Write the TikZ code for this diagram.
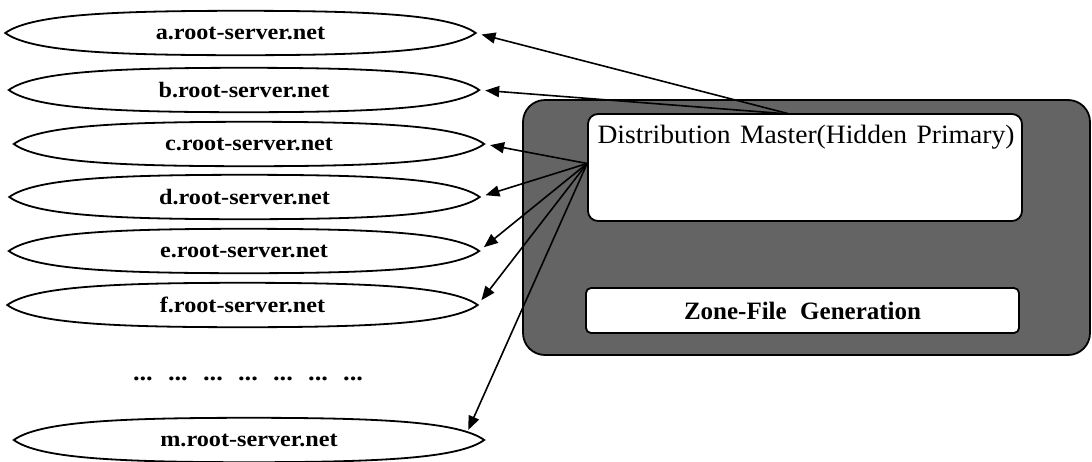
\documentclass[tikz,border=0pt]{standalone}
\usepackage{fontspec}
\setmainfont{Liberation Serif}
\newfontfamily\srvfont[FakeStretch=1.1]{Liberation Serif}
\newfontfamily\dmfont[FakeStretch=1.04]{Liberation Serif}
\usetikzlibrary{calc,arrows.meta}
\definecolor{boxgray}{RGB}{100,100,100}
\begin{document}
\begin{tikzpicture}[x=1pt,y=-1pt,
  srv/.style={minimum width=470pt, minimum height=44pt, inner sep=0pt,
    font={\srvfont\bfseries\fontsize{22}{26}\selectfont}},
  lens/.style={line width=1.8pt},
  conn/.style={line width=1.6pt, -{Triangle[length=14pt,width=11pt]}, shorten >=6pt},
  panel/.style={draw=black, line width=1.8pt, fill=white}]
\useasboundingbox (0,0) rectangle (1092,461);

% root servers
\node[srv] (a) at (240.5,33) {a.root-server.net};
\node[srv] (b) at (244,90) {b.root-server.net};
\node[srv] (c) at (249,144) {c.root-server.net};
\node[srv] (d) at (244.5,197) {d.root-server.net};
\node[srv] (e) at (244,251) {e.root-server.net};
\node[srv] (f) at (242.5,305) {f.root-server.net};
\node[srv] (m) at (249,440) {m.root-server.net};
\foreach \n in {a,b,c,d,e,f,m}{
  \draw[lens] (\n.west) .. controls ($(\n.west)+(25,-18)$) and ($(\n.north)+(-135,0)$) .. (\n.north)
    .. controls ($(\n.north)+(135,0)$) and ($(\n.east)+(-25,-18)$) .. (\n.east)
    .. controls ($(\n.east)+(-25,18)$) and ($(\n.south)+(135,0)$) .. (\n.south)
    .. controls ($(\n.south)+(-135,0)$) and ($(\n.west)+(25,18)$) .. (\n.west) -- cycle;
}
\node[anchor=base, inner sep=0pt, font={\srvfont\bfseries\fontsize{24}{28}\selectfont}] (dots) at (248,380)
  {\makebox[230pt][s]{... ... ... ... ... ... ...}};

% distribution system
\node[draw=black, line width=1.8pt, fill=boxgray, rounded corners=22pt,
  minimum width=567pt, minimum height=255pt] (outer) at (806.5,227.5) {};
\node[panel, rounded corners=10pt, minimum width=434pt, minimum height=107pt] (dm) at (805,167.5) {};
\node[anchor=base, inner sep=0pt, font={\dmfont\fontsize{26.5}{30}\selectfont}] (dmt) at (806,143)
  {\makebox[417pt][s]{Distribution Master(Hidden Primary)}};
\node[panel, rounded corners=5pt, minimum width=433pt, minimum height=45pt,
  font={\bfseries\fontsize{25}{29}\selectfont}] (zf) at (802.5,310.5)
  {\makebox[237pt][s]{Zone-File Generation}};

% connectors
\coordinate (abfan) at ($(dm.north)+(-15,1)$);
\coordinate (cmfan) at ($(dm.west)+(0,-4)$);
\draw[conn] (abfan) -- (a.east);
\draw[conn] (abfan) -- (b.east);
\foreach \n in {c,d,e,f}{
  \draw[conn] (cmfan) -- (\n.east);
}
\draw[conn, shorten >=0pt] (cmfan) -- ($(m.east)+(-16,-10)$);
\end{tikzpicture}
\end{document}
